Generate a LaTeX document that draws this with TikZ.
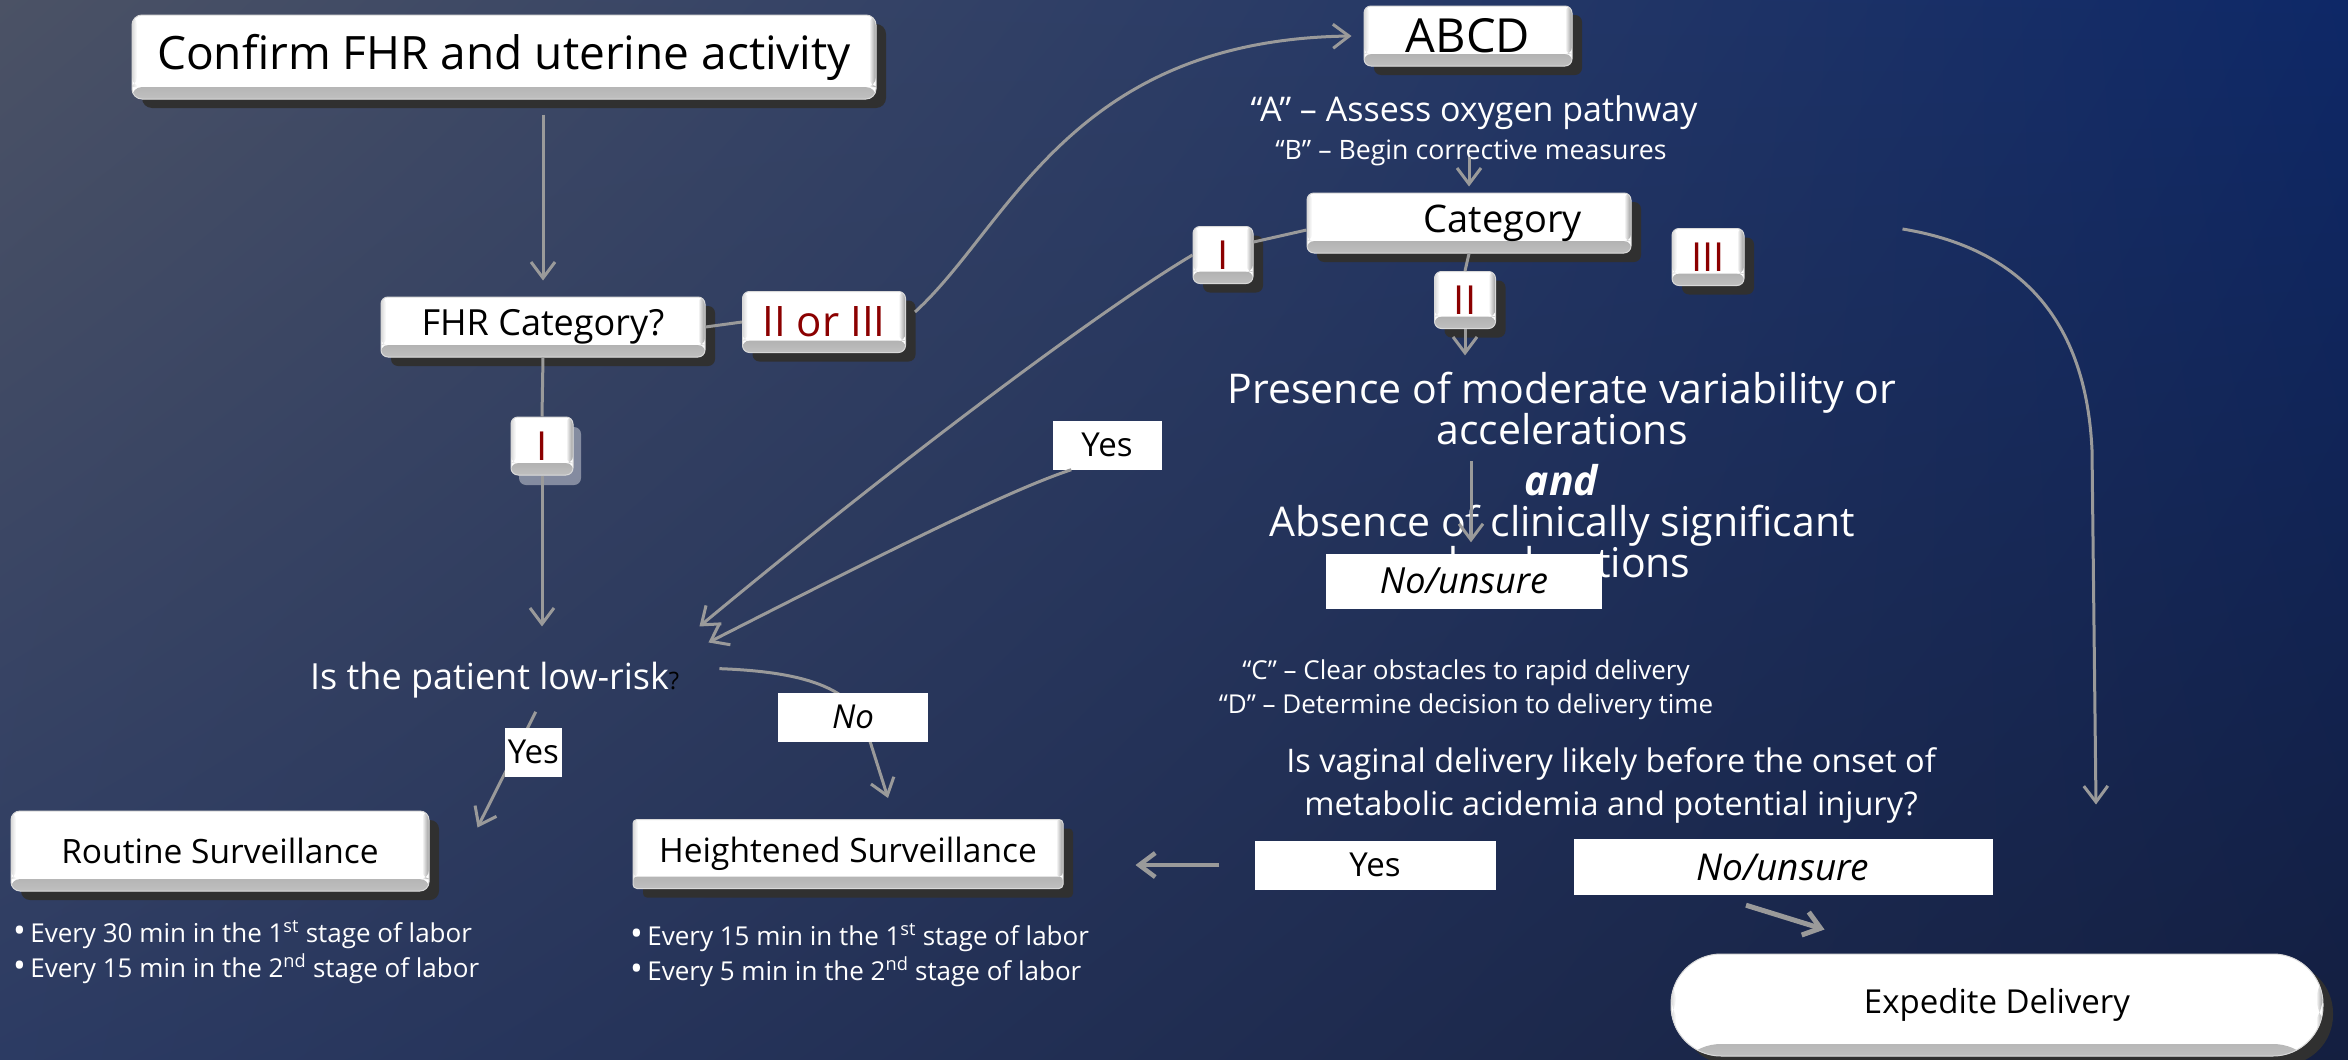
\documentclass[tikz,border=0pt]{standalone}
\usepackage{fontspec}
\setmainfont{Open Sans}
\usetikzlibrary{arrows.meta,shadows,shadings}

\definecolor{bgtl}{HTML}{4B5265}
\definecolor{bgtr}{HTML}{0E2867}
\definecolor{bgbl}{HTML}{2C3B63}
\definecolor{bgbr}{HTML}{141F40}
\definecolor{linkgray}{HTML}{9A9A9A}
\definecolor{catred}{HTML}{8B0000}
\definecolor{shadowgray}{HTML}{303030}

\newcommand{\blt}{{\fontsize{34}{34}\selectfont\textbullet}\,}

\tikzset{
  % white key with a grey bevel on the lower and right edge
  bevel/.style={path picture={
    \shade[top color=black!50,bottom color=black!25]
      ([yshift=12pt]path picture bounding box.south west) rectangle (path picture bounding box.south east);
    \shade[left color=white,right color=black!40]
      ([xshift=-7pt]path picture bounding box.north east) rectangle ([yshift=12pt]path picture bounding box.south east);
    \shade[left color=black!15,right color=white]
      (path picture bounding box.north west) rectangle ([xshift=5pt,yshift=12pt]path picture bounding box.south west);
  }},
  key/.style={rectangle, rounded corners=7pt, fill=white, draw=black!15, line width=1pt,
    bevel, inner sep=0pt, text=black},
  button/.style={key, drop shadow={shadow xshift=10pt, shadow yshift=-9pt, fill=shadowgray, opacity=1}},
  tab/.style={button, text=catred, minimum height=57pt, font=\fontsize{40}{44}\selectfont},
  answer/.style={rectangle, fill=white, inner sep=0pt, text=black, font=\fontsize{33}{36}\selectfont},
  answeri/.style={answer, font=\fontsize{33}{36}\selectfont\itshape},
  note/.style={text=white, inner sep=0pt, align=center},
  link/.style={draw=linkgray, line width=3pt},
  arrow/.style={link, -{Straight Barb[length=16pt,width=24pt]}},
}

\begin{document}
\begin{tikzpicture}[x=1pt, y=-1pt, font=\fontsize{33}{36}\selectfont]
\useasboundingbox (0,0) rectangle (2348,1060);
\shade[upper left=bgtl, upper right=bgtr, lower left=bgbl, lower right=bgbr] (0,0) rectangle (2348,1060);

% left column
\node[button, minimum width=744pt, minimum height=84pt, rounded corners=10pt, font=\fontsize{46}{50}\selectfont]
  (confirm) at (504,57) {Confirm FHR and uterine activity};
\node[button, minimum width=324pt, minimum height=60pt, font=\fontsize{36}{40}\selectfont]
  (fhrcat) at (543,327) {FHR Category?};
\node[tab, minimum width=163pt, minimum height=61pt, font=\fontsize{42}{46}\selectfont]
  (ioriii) at (824,322) {II or III};
\node[key, text=catred, minimum width=62pt, minimum height=58pt, font=\fontsize{40}{44}\selectfont,
  drop shadow={shadow xshift=8pt, shadow yshift=-10pt, fill=white, opacity=.4}]
  (ileft) at (542,446) {I};
\node[note, anchor=base west, font=\fontsize{36}{40}\selectfont]
  (lowrisk) at (310,689) {Is the patient low-risk{\color{black}\fontsize{24}{24}\selectfont ?}};

\node[button, minimum width=418pt, minimum height=80pt, rounded corners=9pt, font=\fontsize{33.5}{38}\selectfont]
  (routine) at (220,851) {Routine Surveillance};
\node[button, minimum width=430pt, minimum height=69pt, rounded corners=4pt, font=\fontsize{33.5}{38}\selectfont]
  (heightened) at (848,854) {Heightened Surveillance};

% base of a multi-line note is its last line
\node[note, align=left, anchor=base west, font=\fontsize{26}{35}\selectfont]
  (routinelist) at (13,977) {\blt Every 30 min in the 1\textsuperscript{st} stage of labor\\
  \blt Every 15 min in the 2\textsuperscript{nd} stage of labor};
\node[note, align=left, anchor=base west, font=\fontsize{26}{35}\selectfont]
  (heightenedlist) at (630,980) {\blt Every 15 min in the 1\textsuperscript{st} stage of labor\\
  \blt Every 5 min in the 2\textsuperscript{nd} stage of labor};

% right column
\node[button, minimum width=208pt, minimum height=60pt, font=\fontsize{47}{50}\selectfont]
  (abcd) at (1468,36) {ABCD};
\node[note, anchor=base, font=\fontsize{34}{36}\selectfont]
  (atext) at (1474,121) {“A” – Assess oxygen pathway};
\node[note, anchor=base, font=\fontsize{26.7}{30}\selectfont]
  (btext) at (1471,159) {“B” – Begin corrective measures};
\node[button, minimum width=324pt, minimum height=60pt, font=\fontsize{38}{42}\selectfont]
  (category) at (1469,223) {\hspace*{68pt}Category};
\node[tab, minimum width=60pt] (cat1) at (1223,255) {I};
\node[tab, minimum width=61pt] (cat2) at (1465,300) {II};
\node[tab, minimum width=72pt] (cat3) at (1708,257) {III};

\node[note, anchor=base, font=\fontsize{41}{41}\selectfont]
  (presence) at (1562,577) {Presence of moderate variability or\\ accelerations\\[10pt]
  \textbf{\textit{and}}\\ Absence of clinically significant\\ decelerations};
\node[answeri, minimum width=276pt, minimum height=55pt, font=\fontsize{36}{38}\selectfont\itshape]
  (nounsure1) at (1464,581) {No/unsure};
\node[answer, minimum width=109pt, minimum height=49pt] (yesc) at (1107,445) {Yes};

\node[note, anchor=base, font=\fontsize{26}{34}\selectfont]
  (cdtext) at (1466,713) {“C” – Clear obstacles to rapid delivery\\ “D” – Determine decision to delivery time};
\node[note, anchor=base, font=\fontsize{32.5}{43}\selectfont]
  (vaginal) at (1611,815) {Is vaginal delivery likely before the onset of\\ metabolic acidemia and potential injury?};
\node[answer, minimum width=241pt, minimum height=49pt] (yes2) at (1375,865) {Yes};
\node[answeri, minimum width=419pt, minimum height=56pt, font=\fontsize{37}{40}\selectfont\itshape]
  (nounsure2) at (1783,867) {No/unsure};

\node[button, minimum width=652pt, minimum height=102pt, rounded corners=50pt]
  (expedite) at (1997,1005) {Expedite Delivery};

% connectors
\draw[arrow, shorten <=15pt, shorten >=16pt] (confirm.south -| fhrcat.north) -- (fhrcat.north);
\draw[link] (fhrcat.east) -- (ioriii.west);
\draw[arrow] ([xshift=9pt,yshift=10pt]ioriii.east) .. controls (1010,225) and (1070,40) .. ([xshift=-12pt]abcd.west);
\draw[link] (fhrcat.south) -- (ileft.north);
\draw[arrow, shorten >=35pt] (ileft.south) -- (ileft.south |- lowrisk.north);

\draw[arrow, shorten <=-9pt, shorten >=6pt] (category.north |- btext.south) -- (category.north);
\draw[link] ([yshift=-7pt]category.west) -- ([yshift=13pt]cat1.east);
\draw[arrow] (cat1.west) .. controls (1100,310) and (900,460) .. ([xshift=20pt,yshift=35pt]lowrisk.north east);
\draw[link] (category.south) -- (cat2.north);
\draw[arrow, shorten >=16pt] (cat2.south) -- (cat2.south |- presence.north);
\draw[arrow] ([xshift=158pt,yshift=28pt]cat3.east) .. controls (2000,245) and (2085,300) .. (2092,450)
  -- ([xshift=99pt,yshift=149pt]expedite.north);

\draw[arrow] ([xshift=7pt,yshift=92pt]nounsure1.north) -- ([xshift=7pt,yshift=11pt]nounsure1.north);
\draw[arrow] ([xshift=19pt]yesc.south west) .. controls (1010,490) and (900,545) .. ([xshift=29pt,yshift=19pt]lowrisk.north east);

\draw[arrow] ([xshift=41pt,yshift=-14pt]lowrisk.south) -- ([xshift=48pt,yshift=-17pt]routine.north east)
  node[answer, pos=.35, xshift=18pt, minimum width=57pt, minimum height=49pt] (yesl) {Yes};
\draw[arrow] ([xshift=40pt,yshift=11pt]lowrisk.east) .. controls (810,672) and (858,690) .. (868,735)
  -- ([xshift=40pt,yshift=21pt]heightened.north);
\node[answeri, minimum width=150pt, minimum height=49pt] (nol) at (853,717) {No};

\draw[arrow, line width=4.5pt, shorten <=35pt, shorten >=72pt] (yes2.west) -- (yes2.west -| heightened.east);
\draw[arrow, line width=5pt] ([xshift=-37pt,yshift=-10pt]nounsure2.south) -- ([xshift=154pt,yshift=24pt]expedite.north west);
\end{tikzpicture}
\end{document}
